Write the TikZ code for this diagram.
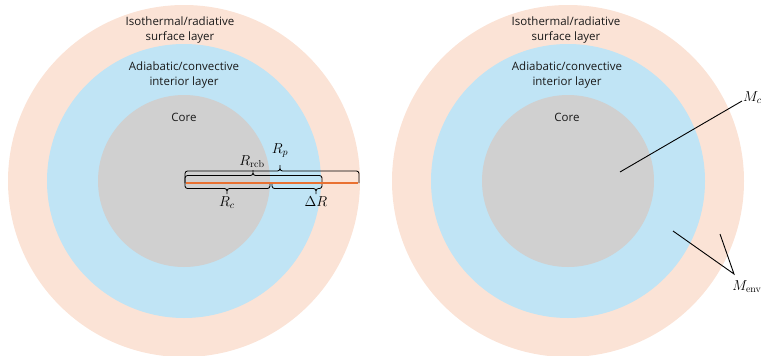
\documentclass[tikz,border=0pt]{standalone}
\usepackage[no-math]{fontspec}
\setmainfont{Open Sans}

\definecolor{surfpeach}{HTML}{FBE3D6}
\definecolor{convblue}{HTML}{C0E4F5}
\definecolor{coregray}{HTML}{D0D0D0}
\definecolor{radorange}{HTML}{E97132}

\tikzset{
  layertext/.style={align=center, font=\fontsize{11.5}{15}\selectfont, text=black!90, inner sep=0pt},
  mathlbl/.style={font=\fontsize{14.5}{16}\selectfont, inner sep=1pt},
  bracket/.style={line width=0.85pt, rounded corners=2.5pt},
  pointer/.style={line width=0.9pt}
}

\begin{document}
\begin{tikzpicture}[x=1pt, y=-1pt]
      \useasboundingbox (0,0) rectangle (763,356);

      % Left planet
      \fill[surfpeach] (184,181) circle (176pt);
      \fill[convblue] (184,181) circle (137pt);
      \fill[coregray] (184,181) circle (86pt);

      \node[layertext] (isoL) at (180,30) {Isothermal/radiative\\surface layer};
      \node[layertext] (adiL) at (184,75) {Adiabatic/convective\\interior layer};
      \node[layertext] (coreL) at (184,117) {Core};

      % braces above: R_p and R_rcb
      \draw[bracket] (185,183) -- (185,171) -- (280,171) -- (280,165)
                     (280,165) -- (280,171) -- (359,171) -- (359,183);
      \draw[bracket] (185,183) -- (185,175.5) -- (253,175.5) -- (253,170)
                     (253,170) -- (253,175.5) -- (322,175.5) -- (322,183);
      % braces below: R_c and Delta R
      \draw[bracket] (185,183) -- (185,188.5) -- (227,188.5) -- (227,194)
                     (227,194) -- (227,188.5) -- (270,188.5) -- (270,183);
      \draw[bracket] (272,183) -- (272,188.5) -- (316,188.5) -- (316,194)
                     (316,194) -- (316,188.5) -- (322,188.5) -- (322,183);

      % radius line
      \coordinate (ctrL) at (186,183);
      \coordinate (surfL) at (358,183);
      \draw[radorange, line width=1.3pt] (ctrL) -- (surfL);

      \node[mathlbl, anchor=south] (rp) at (280,159) {$R_p$};
      \node[mathlbl, anchor=south] (rrcb) at (252,169) {$R_{\mathrm{rcb}}$};
      \node[mathlbl, anchor=north] (rc) at (227,195) {$R_c$};
      \node[mathlbl, anchor=north] (dr) at (316,195) {$\Delta R$};

      % Right planet
      \fill[surfpeach] (568,181) circle (176pt);
      \fill[convblue] (568,181) circle (137pt);
      \fill[coregray] (568,181) circle (86pt);

      \node[layertext] (isoR) at (566,30) {Isothermal/radiative\\surface layer};
      \node[layertext] (adiR) at (567,75) {Adiabatic/convective\\interior layer};
      \node[layertext] (coreR) at (567,117) {Core};

      % mass labels
      \node[mathlbl, anchor=base west] (mc) at (742,101) {$M_c$};
      \coordinate (mcfoot) at (620,172);
      \draw[pointer] (mcfoot) -- (mc.base west);

      \node[mathlbl, anchor=north] (menv) at (747,279) {$M_{\mathrm{env}}$};
      \coordinate (envtip) at (734,274);
      \coordinate (envin) at (673,231);
      \coordinate (envout) at (720,234);
      \draw[pointer] (envin) -- (envtip) -- (envout);
\end{tikzpicture}
\end{document}
